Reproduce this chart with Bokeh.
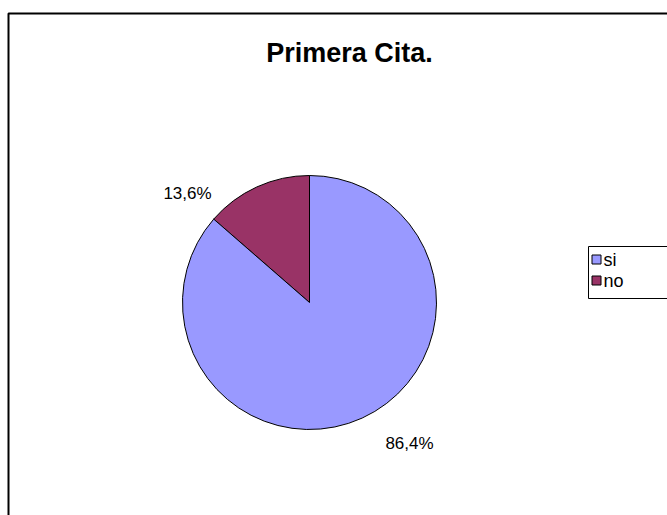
import math
from bokeh.plotting import figure
from bokeh.models import Range1d, ColumnDataSource
from bokeh.core.properties import value
from bokeh.embed import file_html
from bokeh.resources import INLINE

# Survey answers for the first appointment
categories = ["si", "no"]
percentages = [86.4, 13.6]
slice_colors = ["#9999FF", "#993366"]

W, H = 667, 515
FONT = "Liberation Sans"

p = figure(width=W, height=H, output_backend="svg", toolbar_location=None,
           x_range=Range1d(0, W), y_range=Range1d(0, H), min_border=0)
p.axis.visible = False
p.grid.visible = False
p.outline_line_color = None
p.background_fill_color = "white"
p.border_fill_color = "white"

def Y(py):
    return H - py

# chart frame (runs off the right and bottom edges)
p.quad(left=[8], right=[W + 20], top=[Y(13)], bottom=[Y(H + 20)],
       fill_color=None, line_color="black", line_width=2)

# title
p.text(x=[349], y=[Y(52)], text=["Primera Cita."], text_font=value(FONT),
       text_font_size="27px", text_font_style="bold", text_align="center",
       text_baseline="middle", text_color="black")

# pie: slices start at 12 o'clock, "no" first, going counter-clockwise
cx, cy, r = 309, 302, 127
total = sum(percentages)
order = [1, 0]
starts, ends, cols = [], [], []
a = math.pi / 2
for i in order:
    span = 2 * math.pi * percentages[i] / total
    starts.append(a)
    ends.append(a + span)
    cols.append(slice_colors[i])
    a += span
src = ColumnDataSource(dict(start=starts, end=ends, color=cols))
p.wedge(x=cx, y=Y(cy), radius=r, start_angle="start", end_angle="end",
        fill_color="color", line_color="black", line_width=1, source=src)

# percentage labels
def fmt(v):
    return f"{v:.1f}".replace(".", ",") + "%"

label_pos = {"no": (187, 193), "si": (409, 443)}
lx = [label_pos[c][0] for c in categories]
ly = [Y(label_pos[c][1]) for c in categories]
p.text(x=lx, y=ly, text=[fmt(v) for v in percentages], text_font=value(FONT),
       text_font_size="17px", text_align="center", text_baseline="middle",
       text_color="black")

# legend
p.quad(left=[588], right=[W + 20], top=[Y(246)], bottom=[Y(298)],
       fill_color="white", line_color="black", line_width=1)
leg_y = [259, 280]
p.rect(x=[596] * 2, y=[Y(v) for v in leg_y], width=9, height=9,
       fill_color=slice_colors, line_color="black", line_width=1)
p.text(x=[603] * 2, y=[Y(v) for v in leg_y], text=categories,
       text_font=value(FONT), text_font_size="18px", text_baseline="middle",
       text_color="black")

open("out.html", "w").write(file_html(p, INLINE))
